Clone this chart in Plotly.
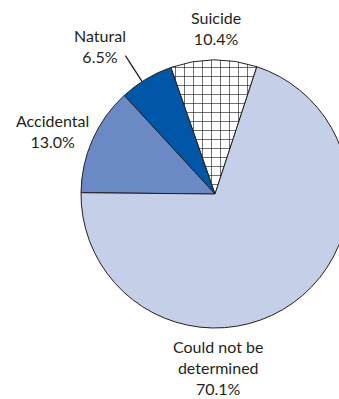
import math
import plotly.graph_objects as go

# ---- data ----
categories = ["Suicide", "Natural", "Accidental", "Could not be<br>determined"]
values = [10.4, 6.5, 13.0, 70.1]
colors = ["#ffffff", "#0057a8", "#6b8ac5", "#c5cfe8"]
patterns = ["+", "", "", ""]

# ---- layout geometry (pixels) ----
W, H = 350, 399
cx, cy, r = 215, 194, 134
start_edge = 18.2  # clockwise degrees from 12 o'clock where the first slice begins
total = sum(values)
rotation = start_edge - values[0] / total * 360

def px2paper(x, y):
    return x / W, 1 - y / H

fig = go.Figure(go.Pie(
    labels=categories,
    values=values,
    sort=False,
    direction="counterclockwise",
    rotation=rotation,
    textinfo="none",
    hoverinfo="label+percent",
    marker=dict(
        colors=colors,
        line=dict(color="#231f20", width=1),
        pattern=dict(shape=patterns, fgcolor="#111111", bgcolor="#ffffff",
                     size=9, solidity=0.13, fillmode="replace"),
    ),
    domain=dict(x=[(cx - r) / W, (cx + r) / W],
                y=[1 - (cy + r) / H, 1 - (cy - r) / H]),
    showlegend=False,
))

# label positions (pixel centres)
label_pos = {
    "Suicide": (216, 27.5),
    "Natural": (100, 45.5),
    "Accidental": (52, 131),
    "Could not be<br>determined": (218, 367.5),
}
font = dict(family="Lato, 'Open Sans', sans-serif", size=16, color="#231f20")
for cat, val in zip(categories, values):
    x, y = label_pos[cat]
    xp, yp = px2paper(x, y)
    fig.add_annotation(x=xp, y=yp, xref="paper", yref="paper",
                       text=f"{cat}<br>{val:.1f}%", showarrow=False,
                       xanchor="center", yanchor="middle", align="center",
                       font=font)

# leader line for the Natural slice: radial near the slice mid-angle,
# drawn on hidden pixel-space axes covering the whole figure
nat = categories.index("Natural")
edge = start_edge - sum(values[:nat]) / total * 360
mid = math.radians(edge - values[nat] / total * 360 / 2 - 2)
lead_x = [cx + r * math.sin(mid), cx + 1.23 * r * math.sin(mid)]
lead_y = [cy - r * math.cos(mid), cy - 1.23 * r * math.cos(mid)]
fig.add_trace(go.Scatter(x=lead_x, y=lead_y, mode="lines",
                         line=dict(color="#231f20", width=1.3),
                         hoverinfo="skip", showlegend=False))

fig.update_layout(
    width=W, height=H,
    margin=dict(l=0, r=0, t=0, b=0),
    paper_bgcolor="#ffffff",
    plot_bgcolor="rgba(0,0,0,0)",
    xaxis=dict(range=[0, W], visible=False, fixedrange=True, domain=[0, 1]),
    yaxis=dict(range=[H, 0], visible=False, fixedrange=True, domain=[0, 1]),
)

fig.write_html(
    "out.html",
    config={"displayModeBar": False},
    post_script="document.body.style.margin='0';document.body.style.overflow='hidden';document.documentElement.style.overflow='hidden';",
)
